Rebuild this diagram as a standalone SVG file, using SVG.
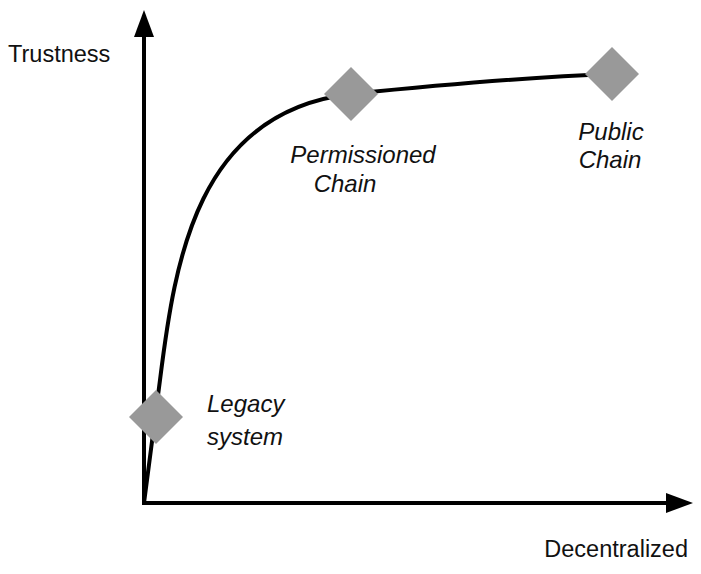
<svg xmlns="http://www.w3.org/2000/svg" width="701" height="574" viewBox="0 0 701 574">
<style>
.ax{stroke:#000;stroke-width:4;fill:none}
.cv{stroke:#000;stroke-width:4;fill:none}
.dm{fill:#999;stroke:none}
.t{font-family:"Liberation Sans",Arial,sans-serif;font-size:23.5px;fill:#111}
.i{font-style:italic;font-size:24px}
</style>
<rect width="701" height="574" fill="#fff"/>
<g id="connectors">
<line class="ax" x1="144" y1="505" x2="144" y2="34"/>
<polygon points="144,10 134,37 154,37" fill="#000"/>
<line class="ax" x1="142" y1="503" x2="670" y2="503"/>
<polygon points="693,503 666,493 666,513" fill="#000"/>
<path class="cv" d="M144,503 L160,380 C175,260 197,112 351,94 C450,84 530,77 612,74"/>
</g>
<g id="legacy">
<polygon class="dm" points="156,390 183,417 156,444 129,417"/>
<text class="t i" x="207" y="412">Legacy</text>
<text class="t i" x="207" y="445">system</text>
</g>
<g id="permissioned">
<polygon class="dm" points="351,67 378,94 351,121 324,94"/>
<text class="t i" x="363" y="163" text-anchor="middle">Permissioned</text>
<text class="t i" x="345" y="192" text-anchor="middle">Chain</text>
</g>
<g id="public">
<polygon class="dm" points="612,47 639,74 612,101 585,74"/>
<text class="t i" x="611" y="140" text-anchor="middle">Public</text>
<text class="t i" x="610" y="168" text-anchor="middle">Chain</text>
</g>
<g id="labels">
<text class="t" x="8" y="62">Trustness</text>
<text class="t" x="688" y="557" text-anchor="end">Decentralized</text>
</g>
</svg>
